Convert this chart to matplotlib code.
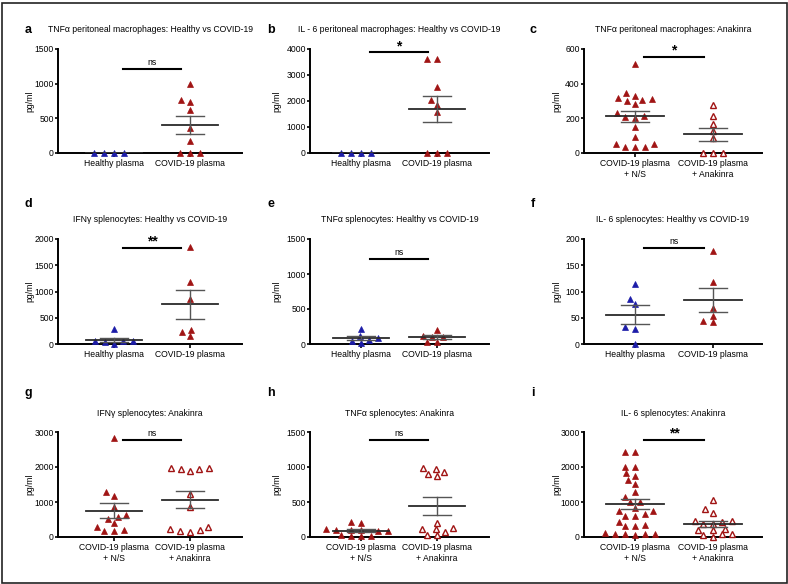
import numpy as np
import matplotlib
matplotlib.use("Agg")
import matplotlib.pyplot as plt
from matplotlib.patches import Rectangle

plt.rcParams["font.family"] = ["Liberation Sans", "DejaVu Sans"]

W, H = 788, 584
RED = "#a01414"
BLUE = "#1c1ca8"

# pg/ml values
a_healthy = [4, 6, 3, 5]
a_covid = [1000, 770, 736, 616, 366, 173, 0, 0, 0]
b_healthy = [3, 5, 2, 4]
b_covid = [3630, 3630, 2530, 2020, 1840, 1585, 0, 0, 0]
c_ns = [512, 344, 331, 319, 311, 304, 300, 281, 229, 215, 210, 200, 152, 91, 54, 52, 37, 37, 33]
c_anak = [278, 211, 166, 125, 84, 0, 0, 0]
d_healthy = [279, 57, 57, 50, 44, 6]
d_covid = [1854, 1175, 851, 273, 222, 152]
e_healthy = [209, 110, 86, 62, 38, 8]
e_covid = [195, 119, 105, 100, 29, 29]
f_healthy = [114, 86, 76, 32, 29, 0]
f_covid = [178, 119, 69, 53, 44, 41]
g_ns = [2836, 1274, 1178, 843, 642, 565, 527, 393, 278, 211, 163, 163]
g_anak = [1964, 1964, 1945, 1945, 1887, 1236, 853, 287, 220, 192, 172, 153]
h_ns = [216, 201, 120, 105, 105, 105, 81, 81, 34, 19, 19, 14]
h_anak = [982, 972, 934, 905, 877, 201, 129, 110, 110, 72, 34, 24]
i_ns = [2418, 2418, 2000, 2000, 1818, 1742, 1637, 1523, 1295, 1133, 990, 990, 838,
        743, 743, 647, 600, 600, 438, 343, 305, 305, 114, 95, 95, 95, 95, 57]
i_anak = [1070, 786, 690, 460, 460, 440, 364, 364, 240, 192, 192, 96, 77, 48, 10]

letters = ["a", "b", "c", "d", "e", "f", "g", "h", "i"]
titles = [
    "TNF\u03b1 peritoneal macrophages: Healthy vs COVID-19",
    "IL - 6 peritoneal macrophages: Healthy vs COVID-19",
    "TNF\u03b1 peritoneal macrophages: Anakinra",
    "IFN\u03b3 splenocytes: Healthy vs COVID-19",
    "TNF\u03b1 splenocytes: Healthy vs COVID-19",
    "IL- 6 splenocytes: Healthy vs COVID-19",
    "IFN\u03b3 splenocytes: Anakinra",
    "TNF\u03b1 splenocytes: Anakinra",
    "IL- 6 splenocytes: Anakinra",
]
groups = [
    (a_healthy, a_covid), (b_healthy, b_covid), (c_ns, c_anak),
    (d_healthy, d_covid), (e_healthy, e_covid), (f_healthy, f_covid),
    (g_ns, g_anak), (h_ns, h_anak), (i_ns, i_anak),
]
healthy_labels = ["Healthy plasma", "COVID-19 plasma"]
anak_labels = ["COVID-19 plasma\n+ N/S", "COVID-19 plasma\n+ Anakinra"]
kinds = ["hc", "hc", "an", "hc", "hc", "hc", "an", "an", "an"]
ymax = [1500, 4000, 600, 2000, 1500, 200, 3000, 1500, 3000]
ystep = [500, 1000, 200, 500, 500, 50, 1000, 500, 1000]
sig = ["ns", "*", "*", "**", "ns", "ns", "ns", "ns", "**"]
sig_y = [1210, 3870, 554, 1835, 1209, 183, 2759, 1384, 2769]

# layout in pixels
cols = [(58, 242, 114, 190), (310, 489, 361, 437), (584, 762, 635, 713)]
rows = [(49, 153), (239, 344), (432, 537)]
ylab_x = [30, 277, 557]
letter_x = [28, 271, 533]
letter_y = [30, 204, 393]
title_y = [30, 219, 413]


def swarm(vals, top, h_px, unit_px, dx_min=10.0, dy_min=6.0):
    # simple beeswarm in pixel space, returns offsets in data units
    y = np.asarray(vals, float) * h_px / top * (dx_min / dy_min)
    d = dx_min
    order = np.argsort(y, kind="stable")
    px, py = [], []
    xs = np.zeros(len(y))
    for idx in order:
        yi = y[idx]
        cands = [0.0]
        for a, b in zip(px, py):
            dy = abs(yi - b)
            if dy < d:
                dx = np.sqrt(d * d - dy * dy)
                cands += [a - dx, a + dx]
        cands.sort(key=lambda v: (abs(v), v))
        for cx in cands:
            if all((cx - a) ** 2 + (yi - b) ** 2 >= d * d - 1e-6 for a, b in zip(px, py)):
                break
        xs[idx] = cx
        px.append(cx)
        py.append(yi)
    return xs / unit_px


fig = plt.figure(figsize=(W / 100, H / 100), dpi=100)

for p in range(9):
    r, c = divmod(p, 3)
    left, right, t0, t1 = cols[c]
    top_px, bot_px = rows[r]
    ax = fig.add_axes([left / W, 1 - bot_px / H, (right - left) / W, (bot_px - top_px) / H])
    unit = t1 - t0
    ax.set_xlim((left - t0) / unit, 1 + (right - t1) / unit)
    ax.set_ylim(0, ymax[p])
    ax.set_yticks(np.arange(0, ymax[p] + 1, ystep[p]))
    for s in ["top", "right"]:
        ax.spines[s].set_visible(False)
    for s in ["left", "bottom"]:
        ax.spines[s].set_linewidth(1.4)
    ax.tick_params(axis="y", labelsize=6.2, length=2.5, width=1.2, pad=0.5)
    ax.tick_params(axis="x", labelsize=6.2, length=3, width=1.2, pad=1.5)
    ax.set_xticks([0, 1])
    ax.set_xticklabels(healthy_labels if kinds[p] == "hc" else anak_labels)
    ax.set_ylabel("pg/ml", fontsize=6.2, va="center")
    ax.yaxis.set_label_coords((ylab_x[c] - left) / (right - left), 0.5)

    h_px = bot_px - top_px
    for g, vals in enumerate(groups[p]):
        vals = np.asarray(vals, float)
        xs = g + swarm(vals, ymax[p], h_px, unit)
        if kinds[p] == "hc":
            col = BLUE if g == 0 else RED
            ax.plot(xs, vals, "^", ms=4.2, color=col, mec=col, mew=0.5, clip_on=False, zorder=3)
        elif g == 0:
            ax.plot(xs, vals, "^", ms=4.2, color=RED, mec=RED, mew=0.5, clip_on=False, zorder=3)
        else:
            ax.plot(xs, vals, "^", ms=3.8, mfc="white", mec=RED, mew=1.0,
                    clip_on=False, zorder=3)
        m = vals.mean()
        sem = vals.std(ddof=1) / np.sqrt(len(vals))
        ax.plot([g - 0.37, g + 0.37], [m, m], color="#2a2a2a", lw=1.3, zorder=4)
        ax.plot([g - 0.18, g + 0.18], [m + sem, m + sem], color="#555555", lw=1.0, zorder=4)
        ax.plot([g - 0.18, g + 0.18], [m - sem, m - sem], color="#555555", lw=1.0, zorder=4)
        ax.plot([g, g], [m - sem, m + sem], color="#555555", lw=1.0, zorder=4)

    ax.plot([0.12, 0.88], [sig_y[p], sig_y[p]], color="black", lw=1.5, clip_on=False)
    if sig[p] == "ns":
        ax.annotate("ns", (0.5, sig_y[p]), xytext=(0, 1.5), textcoords="offset points",
                    ha="center", va="bottom", fontsize=6.2)
    else:
        ax.annotate(sig[p], (0.5, sig_y[p]), xytext=(0, -0.5), textcoords="offset points",
                    ha="center", va="bottom", fontsize=10, fontweight="bold")

    fig.text((left + right) / 2 / W, 1 - title_y[r] / H, titles[p], fontsize=6.2,
             ha="center", va="center")
    fig.text(letter_x[c] / W, 1 - letter_y[r] / H, letters[p], fontsize=9,
             fontweight="bold", ha="center", va="center")

fig.add_artist(Rectangle((1.5 / W, 1.5 / H), (W - 3) / W, (H - 4) / H,
                         transform=fig.transFigure, fill=False, lw=1.2, ec="#222222"))

fig.savefig("out.png", dpi=100)
